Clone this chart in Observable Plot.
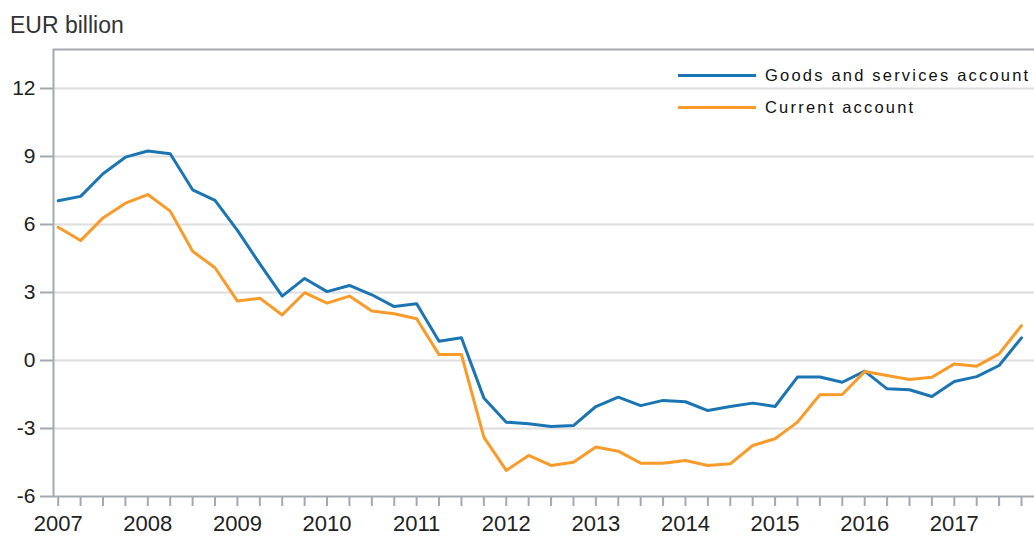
<!DOCTYPE html>
<html>
<head>
<meta charset="utf-8">
<script src="https://cdn.jsdelivr.net/npm/d3@7"></script>
<script src="https://cdn.jsdelivr.net/npm/@observablehq/plot@0.6"></script>
<style>
  html, body { margin: 0; padding: 0; background: #fff; }
  #wrap { position: relative; width: 1034px; height: 540px; overflow: hidden; font-family: "Liberation Sans", Arial, sans-serif; }
  #title { position: absolute; left: 10px; top: 12px; font-size: 23px; color: #333; }
  #legend { position: absolute; left: 678px; top: 59px; font-size: 16.5px; color: #111; letter-spacing: 2.2px; white-space: nowrap; }
  .item { display: flex; align-items: center; height: 32px; }
  .swatch { width: 78px; height: 3px; margin-right: 9px; flex: none; }
  #chart { position: absolute; left: 0; top: 0; }
</style>
</head>
<body>
<div id="wrap">
  <div id="chart"></div>
  <div id="title">EUR billion</div>
  <div id="legend"></div>
</div>
<script>
const years = ["2007","2008","2009","2010","2011","2012","2013","2014","2015","2016","2017"];
const quarters = [
  "2007Q1","2007Q2","2007Q3","2007Q4","2008Q1","2008Q2","2008Q3","2008Q4",
  "2009Q1","2009Q2","2009Q3","2009Q4","2010Q1","2010Q2","2010Q3","2010Q4",
  "2011Q1","2011Q2","2011Q3","2011Q4","2012Q1","2012Q2","2012Q3","2012Q4",
  "2013Q1","2013Q2","2013Q3","2013Q4","2014Q1","2014Q2","2014Q3","2014Q4",
  "2015Q1","2015Q2","2015Q3","2015Q4","2016Q1","2016Q2","2016Q3","2016Q4",
  "2017Q1","2017Q2","2017Q3","2017Q4"
];
const seriesNames = ["Goods and services account", "Current account"];
const seriesColors = ["#1b75b3", "#f89b2a"];
const goodsServices = [
  7.05, 7.24, 8.24, 8.97, 9.24, 9.12, 7.53, 7.06,
  5.74, 4.26, 2.84, 3.62, 3.04, 3.31, 2.90, 2.38,
  2.50, 0.85, 1.00, -1.65, -2.72, -2.79, -2.91, -2.87,
  -2.03, -1.62, -1.99, -1.76, -1.82, -2.21, -2.03, -1.88,
  -2.03, -0.73, -0.73, -0.96, -0.47, -1.25, -1.29, -1.59,
  -0.93, -0.71, -0.22, 1.00
];
const currentAccount = [
  5.88, 5.29, 6.29, 6.94, 7.32, 6.59, 4.82, 4.09,
  2.62, 2.75, 2.01, 2.99, 2.53, 2.84, 2.18, 2.06,
  1.84, 0.26, 0.26, -3.38, -4.85, -4.19, -4.63, -4.49,
  -3.82, -4.00, -4.53, -4.53, -4.41, -4.63, -4.56, -3.75,
  -3.45, -2.72, -1.51, -1.50, -0.49, -0.66, -0.84, -0.74,
  -0.15, -0.25, 0.29, 1.54
];
const yTicks = [-6, -3, 0, 3, 6, 9, 12];
const yDomain = [-6, 13.72];
const xDomain = [-0.21, 43.58];

const values = [goodsServices, currentAccount];
const data = [];
seriesNames.forEach((name, s) => {
  quarters.forEach((q, i) => data.push({series: name, q, i, v: values[s][i]}));
});
const xTickIdx = quarters.map((q, i) => i);

const chart = Plot.plot({
  width: 1034,
  height: 540,
  marginLeft: 53,
  marginRight: 0,
  marginTop: 49,
  marginBottom: 44,
  style: {fontFamily: "'Liberation Sans', Arial, sans-serif", background: "transparent", color: "#222"},
  x: {type: "linear", domain: xDomain},
  y: {domain: yDomain},
  color: {domain: seriesNames, range: seriesColors},
  marks: [
    Plot.gridY(yTicks.filter(d => d !== yDomain[0]), {stroke: "#dedede", strokeOpacity: 1, strokeWidth: 2}),
    Plot.ruleY([yDomain[1]], {stroke: "#a3a9ae", strokeWidth: 2}),
    Plot.ruleY([yDomain[0]], {stroke: "#a3a9ae", strokeWidth: 2}),
    Plot.ruleX([xDomain[0]], {stroke: "#a3a9ae", strokeWidth: 2}),
    Plot.axisY(yTicks, {
      tickSize: 13, tickPadding: 5, stroke: "#a3a9ae", strokeWidth: 2,
      fontSize: 21, fill: "#222", tickFormat: d => String(d), label: null
    }),
    Plot.axisX(xTickIdx, {
      tickSize: 10, tickPadding: 9, stroke: "#a3a9ae", strokeWidth: 2,
      fontSize: 22, fill: "#222",
      tickFormat: i => i % 4 === 0 ? years[i / 4] : "", label: null
    }),
    Plot.line(data, {x: "i", y: "v", z: "series", stroke: "series", strokeWidth: 3, strokeLinejoin: "round"})
  ]
});
document.getElementById("chart").appendChild(chart);

const legend = document.getElementById("legend");
seriesNames.forEach((name, s) => {
  const item = document.createElement("div");
  item.className = "item";
  const sw = document.createElement("div");
  sw.className = "swatch";
  sw.style.background = seriesColors[s];
  const tx = document.createElement("span");
  tx.textContent = name;
  item.appendChild(sw);
  item.appendChild(tx);
  legend.appendChild(item);
});
</script>
</body>
</html>
